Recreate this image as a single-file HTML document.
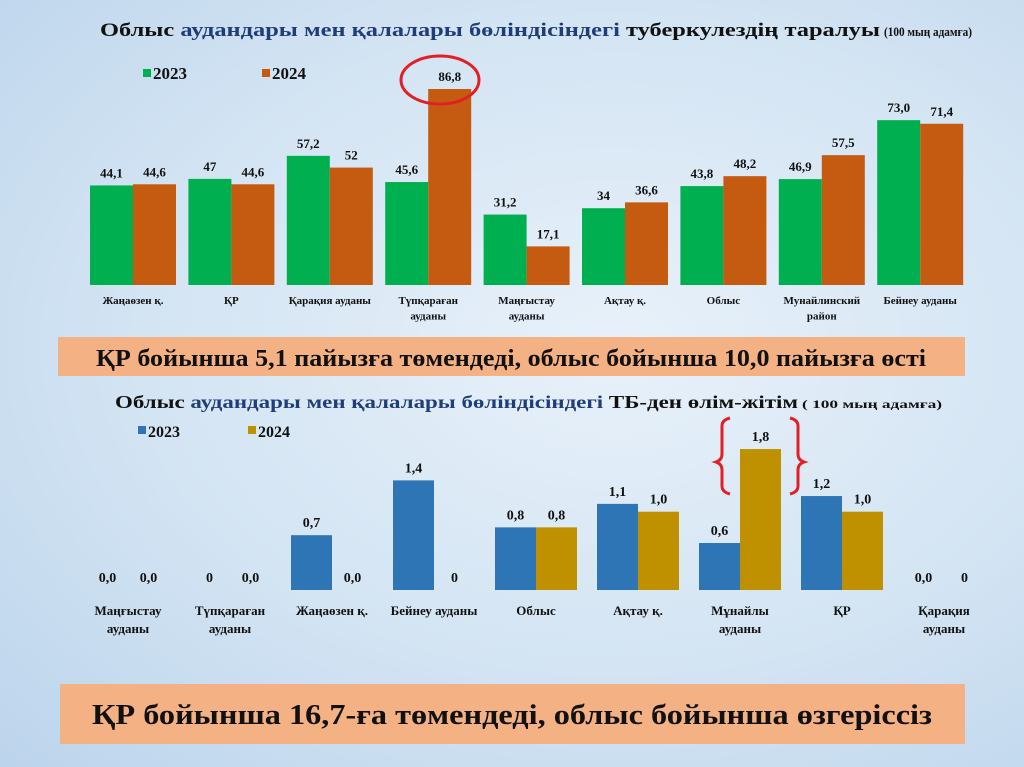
<!DOCTYPE html>
<html><head><meta charset="utf-8"><style>
html,body{margin:0;padding:0;}
body{width:1024px;height:767px;overflow:hidden;background:radial-gradient(ellipse at 60% 45%,#e8f1fa 0%,#d3e4f3 55%,#bcd4ec 100%);font-family:"Liberation Serif","Noto Serif CJK SC",serif;}
svg{position:absolute;left:0;top:0;}
</style></head><body>
<svg id="chart" width="1024" height="767" xmlns="http://www.w3.org/2000/svg">
<text x="100" y="36" font-size="19" font-weight="bold" textLength="780" lengthAdjust="spacingAndGlyphs" fill="#111">Облыс <tspan fill="#1f3d7a">аудандары мен қалалары бөліндісіндегі</tspan> туберкулездің таралуы</text>
<text x="884" y="36" font-size="13" font-weight="bold" textLength="88" lengthAdjust="spacingAndGlyphs" fill="#111">(100 мың адамға)</text>
<rect x="143" y="69" width="8" height="8" fill="#00b050"/>
<text x="153" y="79" font-size="17" font-weight="bold" fill="#111">2023</text>
<rect x="262" y="69" width="8" height="8" fill="#c55a11"/>
<text x="272" y="79" font-size="17" font-weight="bold" fill="#111">2024</text>
<g id="top"></g>
<ellipse cx="440" cy="80" rx="39" ry="24" fill="none" stroke="#e31e24" stroke-width="3" stroke-dasharray="210 20"/>
<rect x="58" y="337" width="907" height="39" fill="#f4b183"/>
<text x="511" y="366" text-anchor="middle" font-size="24" font-weight="bold" textLength="830" lengthAdjust="spacingAndGlyphs" fill="#111">ҚР бойынша 5,1 пайызға төмендеді,  облыс бойынша  10,0 пайызға өсті</text>
<text x="115" y="408" font-size="18" font-weight="bold" textLength="683" lengthAdjust="spacingAndGlyphs" fill="#111">Облыс <tspan fill="#1f3d7a">аудандары мен қалалары бөліндісіндегі</tspan> ТБ-ден өлім-жітім</text>
<text x="802" y="408" font-size="12" font-weight="bold" textLength="140" lengthAdjust="spacingAndGlyphs" fill="#111">( 100 мың адамға)</text>
<rect x="138" y="426" width="8" height="8" fill="#2e75b6"/>
<text x="148" y="437" font-size="16" font-weight="bold" fill="#111">2023</text>
<rect x="248" y="426" width="8" height="8" fill="#bf9000"/>
<text x="258" y="437" font-size="16" font-weight="bold" fill="#111">2024</text>
<g id="bot"></g>
<path d="M730,418 Q722,420 722,426 L722,454 Q722,460 716,462 Q722,464 722,470 L722,486 Q722,492 730,494" fill="none" stroke="#e31e24" stroke-width="3"/>
<path d="M790,418 Q798,420 798,426 L798,454 Q798,460 804,462 Q798,464 798,470 L798,486 Q798,492 790,494" fill="none" stroke="#e31e24" stroke-width="3"/>
<rect x="60" y="684" width="905" height="60" fill="#f4b183"/>
<text x="512" y="724" text-anchor="middle" font-size="29" font-weight="bold" textLength="840" lengthAdjust="spacingAndGlyphs" fill="#111">ҚР бойынша  16,7-ға төмендеді, облыс бойынша   өзгеріссіз</text>
</svg>
<script>
const topCats=[["Жаңаөзен қ."],["ҚР"],["Қарақия ауданы"],["Түпқараған","ауданы"],["Маңғыстау","ауданы"],["Ақтау қ."],["Облыс"],["Мунайлинский","район"],["Бейнеу ауданы"]];
const top2023=[44.1,47,57.2,45.6,31.2,34,43.8,46.9,73.0];
const top2024=[44.6,44.6,52,86.8,17.1,36.6,48.2,57.5,71.4];
const top2023Labels=["44,1","47","57,2","45,6","31,2","34","43,8","46,9","73,0"];
const top2024Labels=["44,6","44,6","52","86,8","17,1","36,6","48,2","57,5","71,4"];
const botCats=[["Маңғыстау","ауданы"],["Түпқараған","ауданы"],["Жаңаөзен қ."],["Бейнеу ауданы"],["Облыс"],["Ақтау қ."],["Мұнайлы","ауданы"],["ҚР"],["Қарақия","ауданы"]];
const bot2023=[0,0,0.7,1.4,0.8,1.1,0.6,1.2,0];
const bot2024=[0,0,0,0,0.8,1.0,1.8,1.0,0];
const bot2023Labels=["0,0","0","0,7","1,4","0,8","1,1","0,6","1,2","0,0"];
const bot2024Labels=["0,0","0,0","0,0","0","0,8","1,0","1,8","1,0","0"];
const NS="http://www.w3.org/2000/svg";
function mk(tag,attrs,parent,txt){const e=document.createElementNS(NS,tag);for(const k in attrs)e.setAttribute(k,attrs[k]);if(txt!==undefined)e.textContent=txt;parent.appendChild(e);return e;}
function drawChart(g,cats,s1,s2,l1,l2,c1,c2,x0,step,bw,base,scale,fs,labY,lfs,prefix){
  const xs=i=>x0+step*i, ys=v=>base-v*scale;
  cats.forEach((c,i)=>{
    const cx=xs(i);
    const b1=mk('rect',{x:cx-bw,y:ys(s1[i]),width:bw,height:base-ys(s1[i]),fill:c1},g);
    
    
    const b2=mk('rect',{x:cx,y:ys(s2[i]),width:bw,height:base-ys(s2[i]),fill:c2},g);
    
    
    const t1=mk('text',{x:cx-bw/2,y:ys(s1[i])-8,'text-anchor':'middle','font-size':fs,'font-weight':'bold',fill:'#111'},g,l1[i]);
    
    
    const t2=mk('text',{x:cx+bw/2,y:ys(s2[i])-8,'text-anchor':'middle','font-size':fs,'font-weight':'bold',fill:'#111'},g,l2[i]);
    
    
    c.forEach((line,j)=>{
      const t=mk('text',{x:cx,y:labY+j*lfs*1.4,'text-anchor':'middle','font-size':lfs,'font-weight':'bold',fill:'#111'},g,line);
      
      
    });
  });
}
drawChart(document.getElementById('top'),topCats,top2023,top2024,top2023Labels,top2024Labels,'#00b050','#c55a11',133,98.4,43,285,2.258,13,304,11,'top');
drawChart(document.getElementById('bot'),botCats,bot2023,bot2024,bot2023Labels,bot2024Labels,'#2e75b6','#bf9000',128,102,41,590,78.3,14,615,13,'bottom');
</script>
</body></html>
